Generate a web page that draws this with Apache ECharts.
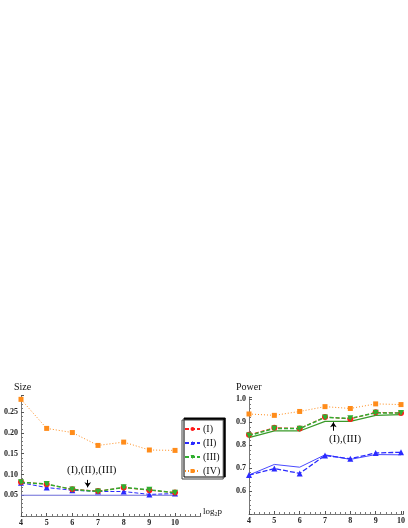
<!DOCTYPE html>
<html>
<head>
<meta charset="utf-8">
<script src="https://cdn.jsdelivr.net/npm/echarts@6/dist/echarts.min.js"></script>
<style>
  html, body { margin: 0; padding: 0; background: #fff; }
  #chart { width: 408px; height: 528px; }
</style>
</head>
<body>
<div id="chart"></div>
<script>
// log2 p
const xVals = [4, 5, 6, 7, 8, 9, 10]

// Size panel
const sizeI = [0.082, 0.0765, 0.0645, 0.060, 0.0685, 0.062, 0.0565]
const sizeII = [0.080, 0.0685, 0.062, 0.059, 0.059, 0.052, 0.054]
const sizeIII = [0.081, 0.077, 0.064, 0.059, 0.069, 0.063, 0.056]
const sizeIV = [0.281, 0.211, 0.201, 0.170, 0.178, 0.159, 0.158]
const nominalSize = 0.05

// Power panel
const powerI = [0.845, 0.876, 0.873, 0.923, 0.914, 0.943, 0.940]
const powerII = [0.670, 0.698, 0.677, 0.755, 0.741, 0.766, 0.769]
const powerIII = [0.842, 0.873, 0.872, 0.921, 0.917, 0.941, 0.940]
const powerIV = [0.936, 0.930, 0.947, 0.968, 0.960, 0.980, 0.977]
const powerIISolid = [0.670, 0.716, 0.704, 0.758, 0.738, 0.759, 0.758]
const powerIIISolid = [0.833, 0.862, 0.862, 0.904, 0.904, 0.930, 0.933]

const names = ['(I)', '(II)', '(III)', '(IV)']
const colors = { I: '#ff1a1a', II: '#2a2aff', III: '#2fae2f', IV: '#ff8c1a' }
const serif = 'Liberation Serif'

const pts = arr => arr.map((v, i) => [xVals[i], v])

const tickLabel = { color: '#222', fontFamily: serif, fontSize: 8, fontWeight: 'bold', margin: 3 }
const axLine = { lineStyle: { color: '#777', width: 1 } }
const axTick = { inside: true, length: 3, lineStyle: { color: '#555' } }
const minor = { show: true, splitNumber: 5, length: 2, lineStyle: { color: '#777' } }

const isMult = (v, s) => Math.abs(v / s - Math.round(v / s)) < 1e-6

const xAxisBase = idx => ({
  type: 'value', gridIndex: idx, min: 4, max: idx === 0 ? 11 : 10.1, interval: 1,
  axisLine: { ...axLine, onZero: false }, axisTick: axTick, minorTick: minor,
  splitLine: { show: false },
  axisLabel: { ...tickLabel, formatter: v => (isMult(v, 1) && v <= 10) ? String(v) : '' }
})

const markerSeries = (name, data, color, symbol, lineType, idx, extra) => ({
  name, type: 'line', xAxisIndex: idx, yAxisIndex: idx, data: pts(data),
  symbol, symbolSize: symbol === 'rect' ? 5 : 6, symbolRotate: extra && extra.rotate || 0,
  lineStyle: { color, width: (extra && extra.width) || 1, type: lineType },
  itemStyle: { color }, z: (extra && extra.z) || 2
})

const chart = echarts.init(document.getElementById('chart'))
const option = {
  backgroundColor: '#fff',
  animation: false,
  grid: [
    { left: 21, top: 395.6, width: 179.7, height: 120.4 },
    { left: 249, top: 397, width: 156.2, height: 117 }
  ],
  xAxis: [xAxisBase(0), xAxisBase(1)],
  yAxis: [
    {
      type: 'value', gridIndex: 0, min: 0, max: 0.29, interval: 0.05,
      axisLine: { ...axLine, onZero: false }, axisTick: axTick,
      minorTick: { ...minor, splitNumber: 5 }, splitLine: { show: false },
      axisLabel: { ...tickLabel, formatter: v => (v > 0.001 && isMult(v, 0.05)) ? v.toFixed(2) : '' }
    },
    {
      type: 'value', gridIndex: 1, min: 0.5, max: 1.01, interval: 0.1,
      axisLine: { ...axLine, onZero: false }, axisTick: axTick,
      minorTick: { ...minor, splitNumber: 5 }, splitLine: { show: false },
      axisLabel: { ...tickLabel, formatter: v => (v > 0.55 && isMult(v, 0.1)) ? v.toFixed(1) : '' }
    }
  ],
  legend: {
    data: names, orient: 'vertical', left: 182, top: 420,
    itemWidth: 15, itemHeight: 5, itemGap: 4, padding: [4, 3, 3, 2],
    backgroundColor: '#fff', borderColor: '#444', borderWidth: 1,
    shadowColor: '#000', shadowBlur: 0, shadowOffsetX: 2, shadowOffsetY: -2,
    textStyle: { fontFamily: serif, fontSize: 10, color: '#111', padding: [0, 0, 0, -2] },
    selectedMode: false
  },
  series: [
    {
      name: 'nominal', type: 'line', xAxisIndex: 0, yAxisIndex: 0,
      data: [[xVals[0], nominalSize], [xVals[xVals.length - 1], nominalSize]],
      symbol: 'none', lineStyle: { color: '#6a6ad8', width: 1 }, z: 1
    },
    markerSeries('(IV)', sizeIV, colors.IV, 'rect', [1, 2], 0),
    markerSeries('(II)', sizeII, colors.II, 'triangle', [4, 2], 0),
    markerSeries('(I)', sizeI, colors.I, 'circle', [4, 2], 0),
    {
      ...markerSeries('(III)', sizeIII, colors.III, 'triangle', [4, 2], 0, { rotate: 180, width: 1.5, z: 3 }),
      markLine: {
        silent: true, symbol: ['none', 'arrow'], symbolSize: 5, label: { show: false },
        lineStyle: { color: '#000', type: 'solid', width: 1 },
        data: [[{ coord: [6.6, 0.087] }, { coord: [6.6, 0.069] }]]
      }
    },
    markerSeries('(IV)', powerIV, colors.IV, 'rect', [1, 2], 1),
    {
      name: 'II solid', type: 'line', xAxisIndex: 1, yAxisIndex: 1, data: pts(powerIISolid),
      symbol: 'none', lineStyle: { color: '#4a4aff', width: 1 }, z: 1
    },
    markerSeries('(II)', powerII, colors.II, 'triangle', [5, 2], 1, { width: 1.3 }),
    {
      name: 'III solid', type: 'line', xAxisIndex: 1, yAxisIndex: 1, data: pts(powerIIISolid),
      symbol: 'none', lineStyle: { color: '#3a9a2a', width: 1.2 }, z: 1,
      markLine: {
        silent: true, symbol: ['none', 'arrow'], symbolSize: 5, label: { show: false },
        lineStyle: { color: '#000', type: 'solid', width: 1 },
        data: [[{ coord: [7.33, 0.863] }, { coord: [7.33, 0.9] }]]
      }
    },
    markerSeries('(I)', powerI, colors.I, 'circle', [4, 2], 1),
    markerSeries('(III)', powerIII, colors.III, 'triangle', [4, 2], 1, { rotate: 180, width: 1.5, z: 3 })
  ],
  graphic: [
    { type: 'text', left: 14, top: 382, style: { text: 'Size', font: '10px "Liberation Serif"', fill: '#111' } },
    { type: 'text', left: 236, top: 382, style: { text: 'Power', font: '10px "Liberation Serif"', fill: '#111' } },
    { type: 'text', left: 67, top: 465, style: { text: '(I),(II),(III)', font: '11px "Liberation Serif"', fill: '#111' } },
    { type: 'text', left: 329, top: 434, style: { text: '(I),(III)', font: '11px "Liberation Serif"', fill: '#111' } },
    {
      type: 'text', left: 203, top: 507,
      style: {
        text: 'log{s|2}p', font: '9px "Liberation Serif"', fill: '#111',
        rich: { s: { fontSize: 6, fontFamily: serif, padding: [5, 0, 0, 0] } }
      }
    }
  ]
}
chart.setOption(option)
window.addEventListener('resize', () => chart.resize())
</script>
</body>
</html>
